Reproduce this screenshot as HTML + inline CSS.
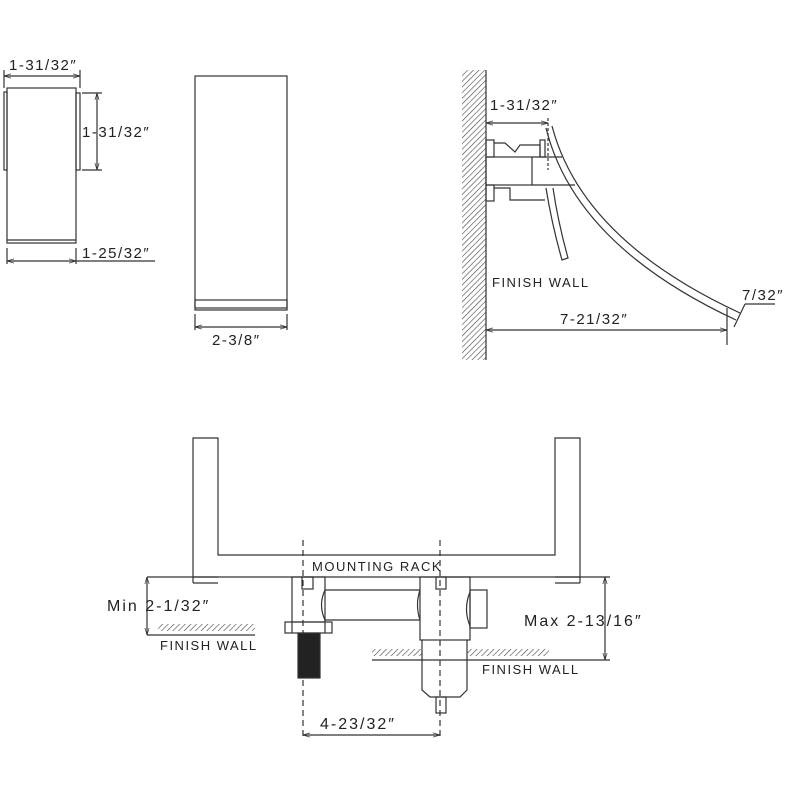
<!DOCTYPE html>
<html><head><meta charset="utf-8"><style>
html,body{margin:0;padding:0;background:#fff;}
svg{display:block;}
text{font-family:"Liberation Sans",sans-serif;font-size:15px;fill:#222;letter-spacing:1.5px;}
</style></head><body>
<svg width="800" height="800" viewBox="0 0 800 800" xmlns="http://www.w3.org/2000/svg">
<defs>
<pattern id="h" width="4" height="4" patternUnits="userSpaceOnUse" patternTransform="rotate(45)">
<line x1="0" y1="0" x2="0" y2="4" stroke="#444" stroke-width="1.2"/>
</pattern>
<marker id="a" viewBox="0 0 10 10" refX="10" refY="5" markerWidth="6" markerHeight="6" orient="auto-start-reverse"><path d="M0,2 L10,5 L0,8" fill="none" stroke="#333"/></marker>
</defs>
<g fill="none" stroke="#333" stroke-width="1.2">
<rect x="7" y="88" width="69" height="155"/>
<line x1="7" y1="240" x2="76" y2="240"/>
<rect x="4" y="92" width="3" height="78"/>
<rect x="76" y="93" width="4" height="77"/>
<line x1="4" y1="76" x2="80" y2="76" marker-start="url(#a)" marker-end="url(#a)"/>
<line x1="4" y1="70" x2="4" y2="88"/><line x1="80" y1="70" x2="80" y2="88"/>
<line x1="97" y1="93" x2="97" y2="170" marker-start="url(#a)" marker-end="url(#a)"/>
<line x1="82" y1="93" x2="102" y2="93"/><line x1="82" y1="170" x2="102" y2="170"/>
<line x1="7" y1="261" x2="76" y2="261" marker-start="url(#a)" marker-end="url(#a)"/>
<line x1="7" y1="248" x2="7" y2="264"/><line x1="76" y1="248" x2="76" y2="264"/>
<line x1="76" y1="261" x2="155" y2="261"/>
<rect x="195" y="76" width="92" height="234"/>
<rect x="195" y="300" width="92" height="8"/>
<line x1="195" y1="314" x2="195" y2="330"/><line x1="287" y1="314" x2="287" y2="330"/>
<line x1="195" y1="327" x2="287" y2="327" marker-start="url(#a)" marker-end="url(#a)"/>
<rect x="462" y="70" width="24" height="290" fill="url(#h)" stroke="none"/>
<line x1="486" y1="70" x2="486" y2="360"/>
<line x1="486" y1="123" x2="548" y2="123" marker-start="url(#a)" marker-end="url(#a)"/>
<line x1="548" y1="118" x2="548" y2="170" stroke-dasharray="3,2"/>
<rect x="486" y="140" width="8" height="17"/>
<path d="M494,143 H505 L515,152 L520,145 H540 V157"/>
<rect x="540" y="140" width="5" height="17"/>
<rect x="486" y="157" width="46" height="28"/>
<line x1="532" y1="157" x2="562" y2="157"/><line x1="532" y1="185" x2="575" y2="185"/>
<rect x="486" y="185" width="8" height="16"/>
<path d="M494,188 H510 V200 H545"/>
<path d="M546,188 Q552,225 562,260 L568,258 Q558,222 553,188"/>
<path d="M546,128 Q575,245 736,320"/>
<path d="M552,126 Q582,240 740,313"/>
<line x1="486" y1="330" x2="727" y2="330" marker-start="url(#a)" marker-end="url(#a)"/>
<line x1="727" y1="308" x2="727" y2="345"/>
<line x1="734" y1="327" x2="745" y2="304"/>
<line x1="745" y1="304" x2="775" y2="304"/>
<path d="M193,583 V438 H218 V555 H555 V438 H580 V583"/>
<line x1="193" y1="577" x2="218" y2="577"/><line x1="555" y1="577" x2="580" y2="577"/>
<line x1="193" y1="583" x2="218" y2="583"/><line x1="555" y1="583" x2="580" y2="583"/>
<line x1="147" y1="577" x2="610" y2="577"/>
<line x1="303" y1="540" x2="303" y2="740" stroke-dasharray="6,4"/>
<line x1="440" y1="540" x2="440" y2="740" stroke-dasharray="6,4"/>
<rect x="292" y="577" width="33" height="45"/>
<rect x="285" y="622" width="47" height="11"/>
<line x1="292" y1="622" x2="292" y2="633"/><line x1="325" y1="622" x2="325" y2="633"/>
<rect x="298" y="633" width="22" height="45" fill="#222"/>
<rect x="302" y="577" width="11" height="12"/>
<rect x="436" y="577" width="10" height="12"/>
<path d="M325,590 H420 M325,620 H420"/>
<path d="M325,590 Q318,605 325,620"/>
<path d="M420,590 Q415,605 420,620"/>
<rect x="420" y="577" width="50" height="63"/>
<rect x="470" y="590" width="17" height="38"/>
<path d="M470,592 Q463,609 470,626"/>
<path d="M422,640 V690 L430,697 H460 L467,690 V640"/>
<rect x="436" y="697" width="10" height="16"/>
<rect x="158" y="624" width="97" height="7" fill="url(#h)" stroke="none"/>
<line x1="147" y1="635" x2="255" y2="635"/>
<line x1="147" y1="577" x2="147" y2="635" marker-start="url(#a)" marker-end="url(#a)"/>
<rect x="372" y="649" width="50" height="7" fill="url(#h)" stroke="none"/>
<rect x="467" y="649" width="82" height="7" fill="url(#h)" stroke="none"/>
<line x1="372" y1="660" x2="610" y2="660"/>
<line x1="605" y1="577" x2="605" y2="660" marker-start="url(#a)" marker-end="url(#a)"/>
<line x1="303" y1="735" x2="440" y2="735" marker-start="url(#a)" marker-end="url(#a)"/>
</g>
<text x="9" y="70">1-31/32″</text>
<text x="82" y="137">1-31/32″</text>
<text x="82" y="258">1-25/32″</text>
<text x="212" y="345">2-3/8″</text>
<text x="490" y="110">1-31/32″</text>
<text x="492" y="287" style="font-size:13px">FINISH WALL</text>
<text x="560" y="324">7-21/32″</text>
<text x="742" y="300">7/32″</text>
<text x="312" y="571" style="font-size:13px">MOUNTING RACK</text>
<text x="107" y="611" style="font-size:16px;letter-spacing:2px">Min 2-1/32″</text>
<text x="160" y="650" style="font-size:13px">FINISH WALL</text>
<text x="524" y="626" style="font-size:16px;letter-spacing:2px">Max 2-13/16″</text>
<text x="482" y="674" style="font-size:13px">FINISH WALL</text>
<text x="320" y="729" style="font-size:16px;letter-spacing:2px">4-23/32″</text>
</svg>
</body></html>
